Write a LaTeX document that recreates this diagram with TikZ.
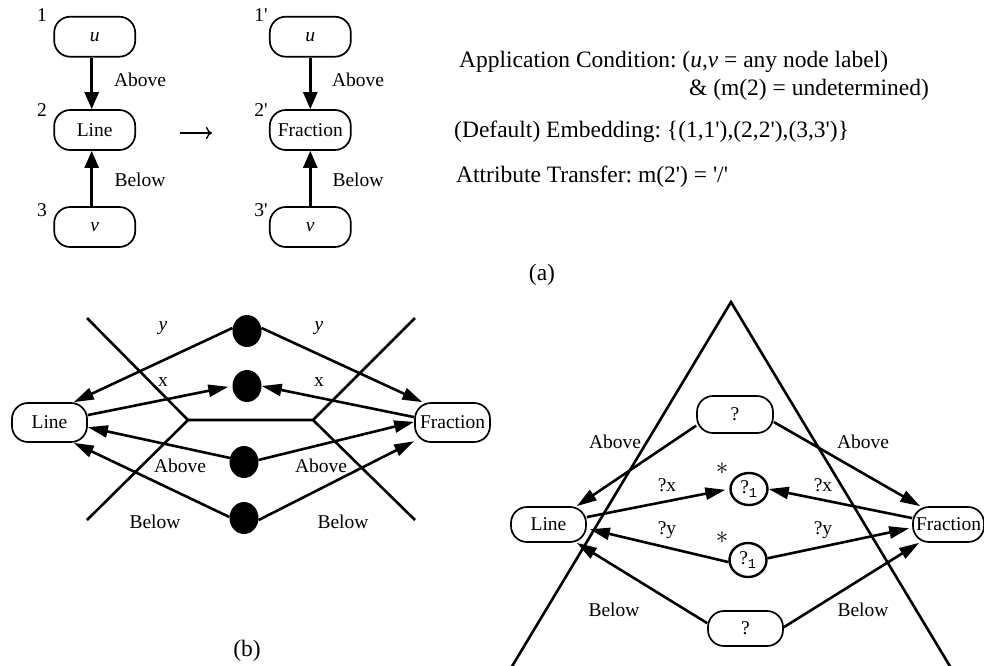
\documentclass[tikz,border=0pt]{standalone}
\usepackage{fontspec}
\setmainfont{Liberation Serif}
\newfontfamily\monof{Liberation Mono}
\usetikzlibrary{arrows.meta,shapes.geometric}
\newcommand\sq{\textquotesingle}
\begin{document}
\frenchspacing
\begin{tikzpicture}[x=1pt,y=-1pt,
  every node/.style={font=\fontsize{19.5}{23}\selectfont, inner sep=0pt},
  pill/.style={draw, line width=1.7pt, rounded corners=16pt, minimum width=81pt, minimum height=40pt},
  conn/.style={line width=2.6pt},
  arr/.style={conn, -{Triangle[length=20pt,width=12pt]}},
  arra/.style={conn, -{Triangle[length=17pt,width=14pt]}},
  dot/.style={ellipse, fill=black, minimum width=29pt, minimum height=32pt},
  ring/.style={ellipse, draw, line width=2.4pt},
  big/.style={font=\fontsize{23.5}{28}\selectfont},
  star/.style={font=\fontsize{29}{32}\selectfont},
]
\useasboundingbox (0,0) rectangle (984,665);
\fill[white] (0,0) rectangle (984,665);

% ---------- (a) ----------
\node[pill] (u1) at (94.7,36.7) {\itshape u};
\node[pill] (l1) at (94.7,130) {Line};
\node[pill] (v1) at (94.7,227) {\itshape v};
\node (n1) at (42,15) {1};
\node (n2) at (42,110) {2};
\node (n3) at (42,210) {3};
\draw[arra] ([xshift=-3pt]u1.south) -- ([xshift=-3pt]l1.north);
\draw[arra] ([xshift=-3pt]v1.north) -- ([xshift=-3pt]l1.south);
\node (ab1) at (140,80) {Above};
\node (be1) at (140,180) {Below};

\coordinate (ta) at (180,133);
\coordinate (tb) at (212,133);
\draw[line width=1.4pt, -{Computer Modern Rightarrow[length=6pt,width=12pt]}] (ta) -- (tb);

\node[pill] (u2) at (310.3,36.7) {\itshape u};
\node[pill] (f2) at (310.3,130) {Fraction};
\node[pill] (v2) at (310.3,227) {\itshape v};
\node (m1) at (261,15) {1\sq};
\node (m2) at (261,110) {2\sq};
\node (m3) at (261,210) {3\sq};
\draw[arra] (u2.south) -- (f2.north);
\draw[arra] (v2.north) -- (f2.south);
\node (ab2) at (358,80) {Above};
\node (be2) at (358,180) {Below};

\node[big, anchor=west] (ac) at (459,62) {Application Condition: (\textit{u},\textit{v} = any node label)};
\node[big, anchor=east] (ac2) at (929,90) {\& (m(2) = undetermined)};
\node[big, anchor=west] (emb) at (454,132) {(Default) Embedding: \{(1,1\sq),(2,2\sq),(3,3\sq)\}};
\node[big, anchor=west] (atr) at (456,177) {Attribute Transfer: m(2\sq) = \sq/\sq};
\node[big] (la) at (542,275) {(a)};

% ---------- (b) ----------
\draw[conn] (87,318) -- (188,420) -- (313,420) -- (415,318);
\draw[conn] (87,520) -- (188,420);
\draw[conn] (313,420) -- (415,520);
\node[pill, minimum width=75pt, minimum height=39pt] (lb) at (49.5,422.5) {Line};
\node[pill, minimum width=75pt, minimum height=39pt] (fb) at (452.5,422.5) {Fraction};
\node[dot] (d1) at (247,331) {};
\node[dot] (d2) at (247,386) {};
\node[dot] (d3) at (244,462) {};
\node[dot] (d4) at (244,518) {};
\draw[arr] (d1.168) -- (lb.40);
\draw[arr] (d1.12) -- (fb.146);
\draw[arr, shorten >=4pt] (lb.11) -- (d2.180);
\draw[arr] (fb.172) -- (d2.0);
\draw[arr] (d3.164) -- (lb.-7);
\draw[arr] (d3.8) -- (fb.179);
\draw[arr] (d4.176) -- (lb.-40);
\draw[arr] (d4.-8) -- (fb.206);
\node (yb1) at (163,328) {\itshape y};
\node (yb2) at (319,328) {\itshape y};
\node (xb1) at (163,382) {x};
\node (xb2) at (319,382) {x};
\node (ab3) at (180,466) {Above};
\node (ab4) at (321,466) {Above};
\node (be3) at (155,522) {Below};
\node (be4) at (343,522) {Below};
\node[big] (lbb) at (247,651) {(b)};

% ---------- (c) ----------
\draw[conn] (511,668) -- (731,302) -- (951,668);
\node[pill, minimum width=75pt, minimum height=35pt] (lc) at (548.5,524.5) {Line};
\node[pill, minimum width=71pt, minimum height=35pt] (fc) at (948.5,524.5) {Fraction};
\node[pill, minimum width=76pt, minimum height=37pt] (q1) at (735,414.5) {?};
\node[pill, minimum width=75pt, minimum height=35pt] (q2) at (745.5,628.5) {?};
\node[ring, minimum width=37pt, minimum height=32pt] (c1) at (749,489) {?\textsubscript{\monof 1}};
\node[ring, minimum width=37pt, minimum height=34pt] (c2) at (748,560) {?\textsubscript{\monof 1}};
\draw[arr] (q1.196) -- (lc.33);
\draw[arr] (q1.-11) -- (fc.147);
\draw[arr, shorten >=4pt] (lc.11) -- (c1.180);
\draw[arr] (fc.170) -- (c1.0);
\draw[arr, shorten >=3pt] (c2.186) -- (lc.-6);
\draw[arr, shorten >=3pt] (c2.5) -- (fc.185);
\draw[arr] (q2.172) -- (lc.-33);
\draw[arr] (q2.2) -- (fc.212);
\node (ab5) at (615,442) {Above};
\node (ab6) at (863,442) {Above};
\node (qx1) at (667,485) {?x};
\node (qx2) at (823,485) {?x};
\node (qy1) at (667,530) {?y};
\node (qy2) at (823,530) {?y};
\node (be5) at (614,610) {Below};
\node (be6) at (863,610) {Below};
\node[star] (s1) at (722,469) {$\ast$};
\node[star] (s2) at (722,538) {$\ast$};
\end{tikzpicture}
\end{document}
